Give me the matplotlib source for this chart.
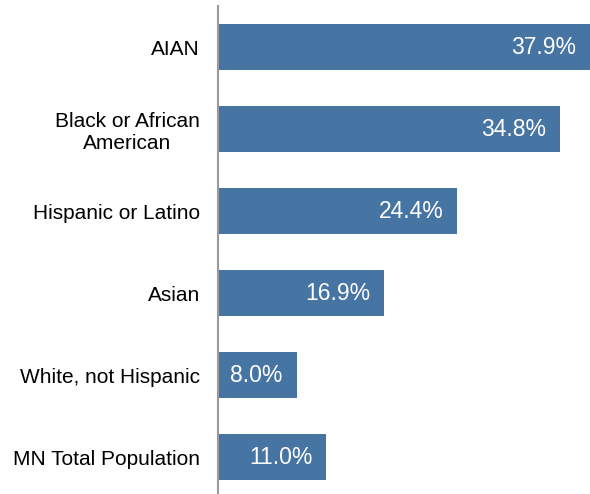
import matplotlib
matplotlib.use('Agg')
import matplotlib.pyplot as plt

plt.rcParams['font.family'] = ['Liberation Sans', 'DejaVu Sans']

groups = ['AIAN', 'Black or African\nAmerican', 'Hispanic or Latino',
          'Asian', 'White, not Hispanic', 'MN Total Population']
values = [37.9, 34.8, 24.4, 16.9, 8.0, 11.0]

bar_color = '#4674A3'

fig = plt.figure(figsize=(5.9, 4.94), dpi=100)
ax = fig.add_axes([218 / 590, 0.0, 372 / 590, 1 - 6 / 494])

pos = range(len(groups))
ax.barh(pos, values, height=0.56, color=bar_color)

for y, v in zip(pos, values):
    ax.text(v - 1.4, y, f'{v:.1f}%', ha='right', va='center',
            color='white', fontsize=16.5)

ax.set_xlim(0, 37.9)
ax.set_ylim(5.45, -0.5)
ax.set_yticks(list(pos))
ax.set_yticklabels(groups, fontsize=15, ha='right', linespacing=1.2,
                   multialignment='center')
ax.tick_params(axis='y', length=0, pad=13)
ax.set_xticks([])

for side in ['top', 'right', 'bottom']:
    ax.spines[side].set_visible(False)
ax.spines['left'].set_color('#999999')
ax.spines['left'].set_linewidth(1.5)

fig.savefig('out.png', dpi=100)
